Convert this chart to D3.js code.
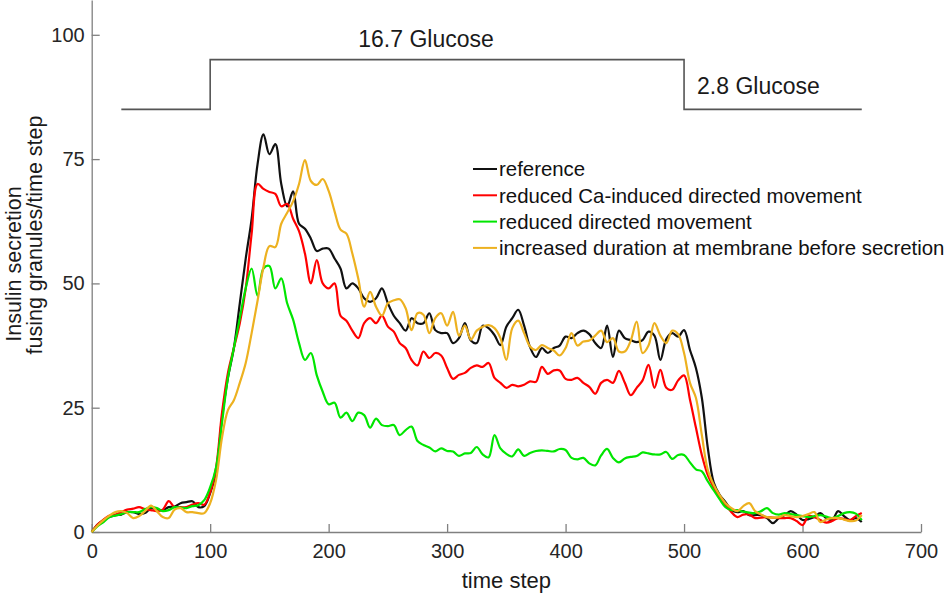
<!DOCTYPE html>
<html>
<head>
<meta charset="utf-8">
<script src="https://cdn.jsdelivr.net/npm/d3@7"></script>
<style>
  body { margin: 0; background: #fff; }
  text { font-family: "Liberation Sans", Arial, sans-serif; }
  .tick text { font-size: 20px; fill: #262626; }
  .axis path, .axis line { stroke: #808080; stroke-width: 1.3; }
</style>
</head>
<body>
<div id="chart"></div>
<script>
// ── Data ──────────────────────────────────────────────────────────
const timeSteps = [
  0, 5, 10, 15, 20, 25, 30, 35, 40, 45, 50, 55, 60, 65, 70, 75, 80, 85, 90, 95,
  100, 105, 110, 115, 120, 125, 130, 135, 140, 145, 150, 155, 160, 165, 170, 175, 180, 185, 190, 195,
  200, 205, 210, 215, 220, 225, 230, 235, 240, 245, 250, 255, 260, 265, 270, 275, 280, 285, 290, 295,
  300, 305, 310, 315, 320, 325, 330, 335, 340, 345, 350, 355, 360, 365, 370, 375, 380, 385, 390, 395,
  400, 405, 410, 415, 420, 425, 430, 435, 440, 445, 450, 455, 460, 465, 470, 475, 480, 485, 490, 495,
  500, 505, 510, 515, 520, 525, 530, 535, 540, 545, 550, 555, 560, 565, 570, 575, 580, 585, 590, 595,
  600, 605, 610, 615, 620, 625, 630, 635, 640, 645, 650
];

const referenceValues = [
  0, 1.5, 2.4, 3, 3.4, 3.5, 4, 4, 3.6, 3.8,
  4.8, 4.6, 4.4, 5, 5.1, 5.8, 6, 6.2, 5, 5.2,
  7.8, 12, 23, 31, 37, 46, 55, 63, 74, 80,
  76, 78, 70, 65.5, 68.5, 62, 61, 59, 56.5, 57,
  57, 55, 53, 49, 50, 49, 47, 46.3, 47, 49,
  46, 43.5, 42, 40.5, 43, 42, 42, 44, 40.6, 40,
  40, 38, 39, 42, 38.5, 38, 41.5, 41, 39.6, 37.6,
  41.3, 43, 44.7, 41.5, 37.2, 35.2, 37, 36, 37, 37.5,
  39.3, 39, 40, 40.5, 39.8, 38, 37, 41.5, 35.2, 40.5,
  39, 38.6, 38.2, 38.6, 40.3, 39.5, 34.6, 38.8, 40, 39.3,
  40.6, 36.6, 33, 27, 17, 10, 7.5, 6, 4.4, 4,
  4.2, 3.4, 3.4, 3.4, 2.8, 1.8, 2.8, 3.4, 4.2, 3.5,
  2.4, 2.6, 3, 3.8, 2.8, 2.4, 4.2, 3.2, 2.4, 2.8,
  2
];

const reducedCaValues = [
  0, 1.5, 2.5, 3.3, 3.5, 4, 4.5, 4.7, 5, 4.6,
  4.4, 4.2, 4.5, 6.2, 5, 5, 5, 5.5, 5.8, 5.5,
  8, 13, 24, 32, 37, 42, 49, 60, 70, 69,
  68.4, 68, 65.5, 66, 63, 60.5, 56, 50, 54.7, 50,
  49, 50, 43.5, 42.5, 40.5, 39, 42, 43, 42, 43.5,
  41.3, 40.3, 38, 37, 34.6, 33.5, 36.3, 35, 36, 35.5,
  33, 30.8, 31.6, 32, 33, 33.5, 33.2, 34, 31, 30,
  29, 29.6, 29.3, 29.6, 30.3, 30.2, 33.2, 31.8, 32.5, 32.5,
  30.8, 30.6, 31, 30, 29.2, 27.8, 30, 30.6, 30, 32.4,
  30, 27.5, 29, 30.5, 33.6, 29, 32.6, 29, 28.6, 30.5,
  31.5, 26.6, 21, 15.5, 11.5, 9, 7, 5.5, 4, 3,
  3.5, 3.5, 2.8, 2.9, 3, 2.9, 2.8, 2.8, 2.8, 2.2,
  1.4, 3.2, 3, 2.4, 1.9, 2.2, 2.8, 2.6, 2.4, 3.2,
  3.8
];

const reducedDirectedValues = [
  0, 1.2, 2, 3, 3.3, 3.6, 4, 4, 4, 4.6,
  5, 4.8, 4.2, 4.4, 5, 4.9, 4.8, 5.2, 5.4, 6.4,
  9, 13, 22, 31, 37, 43, 49, 53, 47.5, 53,
  53.5, 49, 51, 46, 42.7, 38, 34.6, 36, 31.5, 28.2,
  25.7, 26, 23, 24, 22.3, 24, 23.5, 21, 22.8, 21.5,
  21.3, 21.5, 19.5, 20.5, 21.2, 18.3, 17.5, 17, 16.2, 16.8,
  16.3, 16.2, 15.3, 15.8, 15.9, 17.1, 15.6, 15, 19.5, 16.8,
  15.7, 15.2, 16.6, 15.3, 15.9, 16.3, 16.4, 16.3, 16.2, 16.7,
  16.5, 14.9, 14.6, 14.9, 13.8, 13.4, 15.4, 16.7, 14.9, 14,
  14.8, 15.1, 15.3, 16, 15.8, 15.6, 15.6, 16.1, 14.7, 15.5,
  15.5, 14, 12.6, 12.2, 10.2, 8.4, 6.6, 5, 4.4, 4.4,
  4.1, 3.9, 3.8, 4.2, 4.8, 3.8, 3.5, 3.8, 3.6, 3.4,
  3.2, 3, 3.2, 3.4, 3.1, 2.8, 3.2, 3.8, 4, 3.7,
  2.4
];

const increasedDurationValues = [
  0, 1.3, 2.4, 3.3, 4, 4.2, 3.8, 2.8, 3.2, 4.2,
  5.3, 4.2, 3, 2.8, 4.5, 4.8, 4, 4, 3.8, 3.8,
  5.8, 10.5, 19, 24.5, 26.5, 30, 34, 40, 46.5, 53.3,
  57.5, 57.3, 62, 64.2, 66.5, 70, 74.8, 70.6, 69.8, 71,
  68.6, 64.5, 60.8, 60, 56, 51, 45.3, 48.3, 45.3, 43.5,
  46, 46.6, 46.8, 45, 40.6, 44, 43.7, 40, 43, 44,
  41.5, 44.3, 39.5, 41.5, 38.7, 40.5, 41.3, 41.6, 41, 39,
  34.6, 41, 42.5, 40, 37.3, 36.6, 37.6, 37, 36.5, 35.5,
  37, 40, 37.5, 38.3, 38.5, 39.5, 40.5, 38.2, 39, 36.3,
  36.3, 38.5, 42.3, 36, 37.5, 42, 39.5, 38, 40.5, 39.8,
  36, 30, 27, 19.5, 12.5, 9.5, 7.4, 5.8, 4.8, 4.2,
  5.2, 5.8, 4.2, 3.5, 3, 2.9, 3, 3.4, 3.2, 3,
  3.2, 3.6, 4, 2, 2.5, 2.8, 2.8, 2.5, 2.2, 2.3,
  3.4
];

const seriesNames = [
  "reference",
  "reduced Ca-induced directed movement",
  "reduced directed movement",
  "increased duration at membrane before secretion"
];
const seriesColors = ["#111111", "#ff0000", "#00e600", "#edb120"];
const seriesValues = [referenceValues, reducedCaValues, reducedDirectedValues, increasedDurationValues];

// glucose stimulus protocol (drawn on top, in y units)
const glucoseTimes = [25, 100, 100, 500, 500, 650];
const glucoseLevels = [85, 85, 95, 95, 85, 85];
const glucoseLabels = [
  { text: "16.7 Glucose", t: 225, v: 97.6 },
  { text: "2.8 Glucose", t: 511, v: 88 }
];

const xTicks = [0, 100, 200, 300, 400, 500, 600, 700];
const yTicks = [0, 25, 50, 75, 100];

// ── Layout ───────────────────────────────────────────────────────
const width = 945;
const height = 596;
const margin = { left: 91.7, right: 24, top: 0, bottom: 64 };

const svg = d3.select("#chart")
  .append("svg")
  .attr("width", width)
  .attr("height", height);

const xScale = d3.scaleLinear()
  .domain([0, 700])
  .range([margin.left, width - margin.right]);

const yScale = d3.scaleLinear()
  .domain([0, 107])
  .range([height - margin.bottom, margin.top]);

// Axes (ticks point inward)
svg.append("g")
  .attr("class", "axis")
  .attr("transform", `translate(0,${height - margin.bottom})`)
  .call(d3.axisBottom(xScale).tickValues(xTicks).tickSizeInner(-8).tickSizeOuter(0).tickPadding(12))
  .call(g => g.selectAll(".tick text").attr("dy", "0.71em"));

svg.append("g")
  .attr("class", "axis")
  .attr("transform", `translate(${margin.left},0)`)
  .call(d3.axisLeft(yScale).tickValues(yTicks).tickSizeInner(-8).tickSizeOuter(0).tickPadding(7));

// Glucose step line
const glucoseLine = d3.line()
  .x((d, i) => xScale(glucoseTimes[i]))
  .y(d => yScale(d));

svg.append("path")
  .datum(glucoseLevels)
  .attr("d", glucoseLine)
  .attr("fill", "none")
  .attr("stroke", "#555555")
  .attr("stroke-width", 1.6);

svg.selectAll(".glucose-label")
  .data(glucoseLabels)
  .join("text")
  .attr("class", "glucose-label")
  .attr("x", d => xScale(d.t))
  .attr("y", d => yScale(d.v))
  .attr("font-size", 23)
  .attr("fill", "#1a1a1a")
  .text(d => d.text);

// Series lines
const seriesLine = d3.line()
  .x((d, i) => xScale(timeSteps[i]))
  .y(d => yScale(d))
  .curve(d3.curveCatmullRom.alpha(0.5));

svg.selectAll(".series")
  .data(seriesValues)
  .join("path")
  .attr("class", "series")
  .attr("d", seriesLine)
  .attr("fill", "none")
  .attr("stroke", (d, i) => seriesColors[i])
  .attr("stroke-width", 2.2);

// Legend
const legend = svg.append("g").attr("transform", "translate(473,169)");
const legendRows = legend.selectAll("g")
  .data(seriesNames)
  .join("g")
  .attr("transform", (d, i) => `translate(0,${i * 26.3})`);

legendRows.append("line")
  .attr("x1", 0).attr("x2", 24)
  .attr("stroke", (d, i) => seriesColors[i])
  .attr("stroke-width", 2);

legendRows.append("text")
  .attr("x", 26)
  .attr("dy", "0.36em")
  .attr("font-size", 20.4)
  .attr("fill", "#111")
  .text(d => d);

// Axis labels
svg.append("text")
  .text("time step")
  .attr("text-anchor", "middle")
  .attr("x", (margin.left + width - margin.right) / 2)
  .attr("y", 588)
  .attr("font-size", 22)
  .attr("fill", "#1a1a1a");

svg.append("text")
  .text("Insulin secretion")
  .attr("text-anchor", "middle")
  .attr("transform", "translate(21,264) rotate(-90)")
  .attr("font-size", 21.5)
  .attr("fill", "#1a1a1a");

svg.append("text")
  .text("fusing granules/time step")
  .attr("text-anchor", "middle")
  .attr("transform", "translate(42,235) rotate(-90)")
  .attr("font-size", 21.5)
  .attr("fill", "#1a1a1a");
</script>
</body>
</html>
